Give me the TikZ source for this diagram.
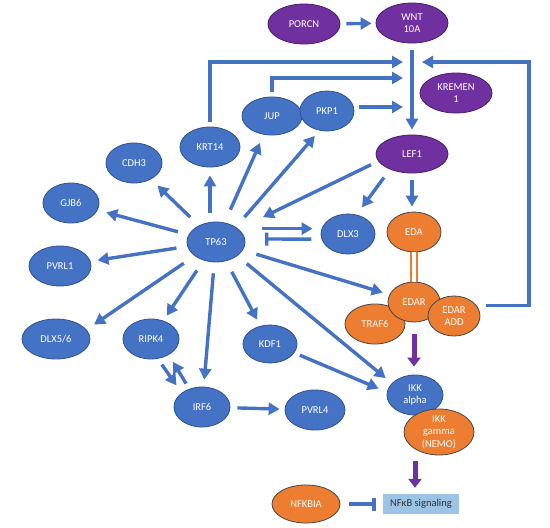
\documentclass[tikz,border=0pt]{standalone}
\usepackage{fontspec}
\setmainfont{Carlito}
\usetikzlibrary{shapes.geometric}
\usetikzlibrary{arrows.meta}
\definecolor{nodeblue}{RGB}{68,114,196}
\definecolor{edgeblue}{RGB}{47,82,143}
\definecolor{arrowblue}{RGB}{68,114,196}
\definecolor{wntpurple}{RGB}{112,48,160}
\definecolor{wntdark}{RGB}{72,30,105}
\definecolor{edaorange}{RGB}{237,125,49}
\definecolor{edadark}{RGB}{70,70,75}
\definecolor{nfkbblue}{RGB}{157,195,230}

\begin{document}
\begin{tikzpicture}[x=1pt, y=-1pt,
    gene/.style={ellipse, draw=edgeblue, fill=nodeblue, text=white, inner sep=0pt, line width=0.8pt, align=center, font=\fontsize{10.5}{12.5}\selectfont},
    wntgene/.style={gene, draw=wntdark, fill=wntpurple},
    edagene/.style={gene, draw=edadark, fill=edaorange},
    arr/.style={draw=arrowblue, line width=3.4pt, -{Triangle[length=11pt,width=12pt]}},
    inh/.style={draw=arrowblue, line width=3.4pt, -{Bar[width=13pt]}},
    parr/.style={draw=wntpurple, line width=5pt, -{Triangle[length=9pt,width=13pt]}}]

    \useasboundingbox (0,0) rectangle (550,528);

    % WNT branch
    \node[wntgene, minimum width=72pt, minimum height=40pt] (porcn) at (304,24) {PORCN};
    \node[wntgene, minimum width=72pt, minimum height=40pt] (wnt) at (412,23) {WNT\\10A};
    \node[wntgene, minimum width=72pt, minimum height=40pt] (kremen) at (456,93) {KREMEN\\1};
    \node[wntgene, minimum width=72pt, minimum height=38pt] (lef1) at (412,154) {LEF1};

    % TP63 and its targets
    \node[gene, minimum width=60pt, minimum height=38pt] (jup) at (272,116) {JUP};
    \node[gene, minimum width=54pt, minimum height=40pt] (pkp1) at (327,111) {PKP1};
    \node[gene, minimum width=60pt, minimum height=40pt] (krt14) at (210,147) {KRT14};
    \node[gene, minimum width=56pt, minimum height=40pt] (cdh3) at (134,163) {CDH3};
    \node[gene, minimum width=56pt, minimum height=40pt] (gjb6) at (71,203) {GJB6};
    \node[gene, minimum width=58pt, minimum height=40pt] (tp63) at (216,242) {TP63};
    \node[gene, minimum width=62pt, minimum height=40pt] (pvrl1) at (60,266) {PVRL1};
    \node[gene, minimum width=68pt, minimum height=40pt] (dlx56) at (56,339) {DLX5/6};
    \node[gene, minimum width=56pt, minimum height=40pt] (ripk4) at (151,339) {RIPK4};
    \node[gene, minimum width=54pt, minimum height=38pt] (kdf1) at (270,344) {KDF1};
    \node[gene, minimum width=54pt, minimum height=40pt] (dlx3) at (348,234) {DLX3};
    \node[gene, minimum width=56pt, minimum height=40pt] (irf6) at (202,407) {IRF6};
    \node[gene, minimum width=60pt, minimum height=40pt] (pvrl4) at (315,410) {PVRL4};

    % EDA pathway
    \node[edagene, minimum width=54pt, minimum height=40pt] (eda) at (414,232) {EDA};
    \node[edagene, minimum width=60pt, minimum height=40pt] (traf6) at (375,324) {TRAF6};
    \node[edagene, minimum width=52pt, minimum height=40pt] (edar) at (414,302) {EDAR};
    \node[edagene, minimum width=52pt, minimum height=40pt] (edaradd) at (454,316) {EDAR\\ADD};
    \node[gene, minimum width=56pt, minimum height=40pt] (ikka) at (415,395) {IKK\\alpha};
    \node[edagene, minimum width=70pt, minimum height=46pt, inner ysep=-3pt] (nemo) at (439,432) {IKK\\gamma\\(NEMO)};
    \node[edagene, minimum width=68pt, minimum height=38pt] (nfkbia) at (306,504) {NFKBIA};
    \node[fill=nfkbblue, minimum width=76pt, minimum height=20pt, inner sep=0pt, text=black!80, font=\fontsize{10.5}{12}\selectfont] (nfkb) at (421,504) {NFκB signaling};

    % feedback into the WNT axis
    \coordinate (in1) at (403,62);
    \coordinate (in2) at (403,78);
    \coordinate (in3) at (403,107);
    \coordinate (in4) at (422,62);
    \coordinate (fbr) at (529,62);

    \draw[arr, shorten <=6pt, shorten >=4pt] (porcn) -- (wnt);
    \draw[arr, shorten <=7pt, shorten >=5pt] (wnt) -- (lef1);
    \draw[arr, shorten <=5pt] (krt14.north) |- (in1);
    \draw[arr, shorten <=5pt] (jup.north) |- (in2);
    \draw[arr, shorten <=5pt] (pkp1.east |- in3) -- (in3);
    \draw[arr, shorten <=9pt] (edaradd.25) -| (fbr) -- (in4);

    \draw[arr, shorten <=8pt, shorten >=27pt] (lef1.192) -- (tp63.30);
    \draw[arr, shorten <=10pt, shorten >=9pt] (lef1.215) -- (dlx3.66);
    \draw[arr, shorten <=7pt, shorten >=5pt] (lef1.south) -- (lef1.south |- eda.north);

    \draw[arr, shorten <=12pt, shorten >=9pt] (tp63) -- (cdh3);
    \draw[arr, shorten <=11pt, shorten >=9pt] (tp63) -- (gjb6);
    \draw[arr, shorten <=11pt, shorten >=7pt] (tp63) -- (pvrl1);
    \draw[arr, shorten <=13pt, shorten >=9pt] (tp63.213) -- (dlx56.17);
    \draw[arr, shorten <=12pt, shorten >=6pt] (tp63) -- (ripk4);
    \draw[arr, shorten <=11pt, shorten >=7pt] (tp63) -- (irf6);
    \draw[arr, shorten <=12pt, shorten >=7pt] (tp63) -- (kdf1);
    \draw[arr, shorten <=9pt, shorten >=8pt] (tp63.north -| krt14.south) -- (krt14.south);
    \draw[arr, shorten <=14pt, shorten >=9pt] (tp63) -- (jup);
    \draw[arr, shorten <=13pt, shorten >=7pt] (tp63.37) -- (pkp1.249);
    \draw[arr, shorten <=24pt, shorten >=8pt] (tp63.31) -- (tp63.31 -| dlx3.west);
    \draw[inh, shorten <=10pt, shorten >=20pt] (dlx3.191) -- (tp63.6);
    \draw[arr, shorten <=14pt, shorten >=7pt] (tp63) -- (edar);
    \draw[arr, shorten <=12pt, shorten >=8pt] (tp63.327) -- (ikka.153);
    \draw[arr, shorten <=6pt, shorten >=9pt] (kdf1.340) -- (ikka.174);
    \draw[arr, shorten <=7pt, shorten >=9pt] (ripk4.289) -- (irf6.145);
    \draw[arr, shorten <=6pt, shorten >=8pt] (irf6.125) -- (ripk4.318);
    \draw[arr, shorten <=7pt, shorten >=5pt] (irf6) -- (pvrl4);

    \draw[draw=edaorange, double=white, double distance=4.5pt, line width=2pt] (eda) -- (edar);
    \draw[parr, shorten <=12pt, shorten >=8pt] (edar.south) -- (edar.south |- ikka.north);
    \draw[parr, shorten <=6pt, shorten >=6pt] (nemo.south -| ikka.south) -- (ikka.south |- nfkb.north);
    \draw[inh, shorten <=9pt, shorten >=7pt] (nfkbia) -- (nfkb);

\end{tikzpicture}
\end{document}
